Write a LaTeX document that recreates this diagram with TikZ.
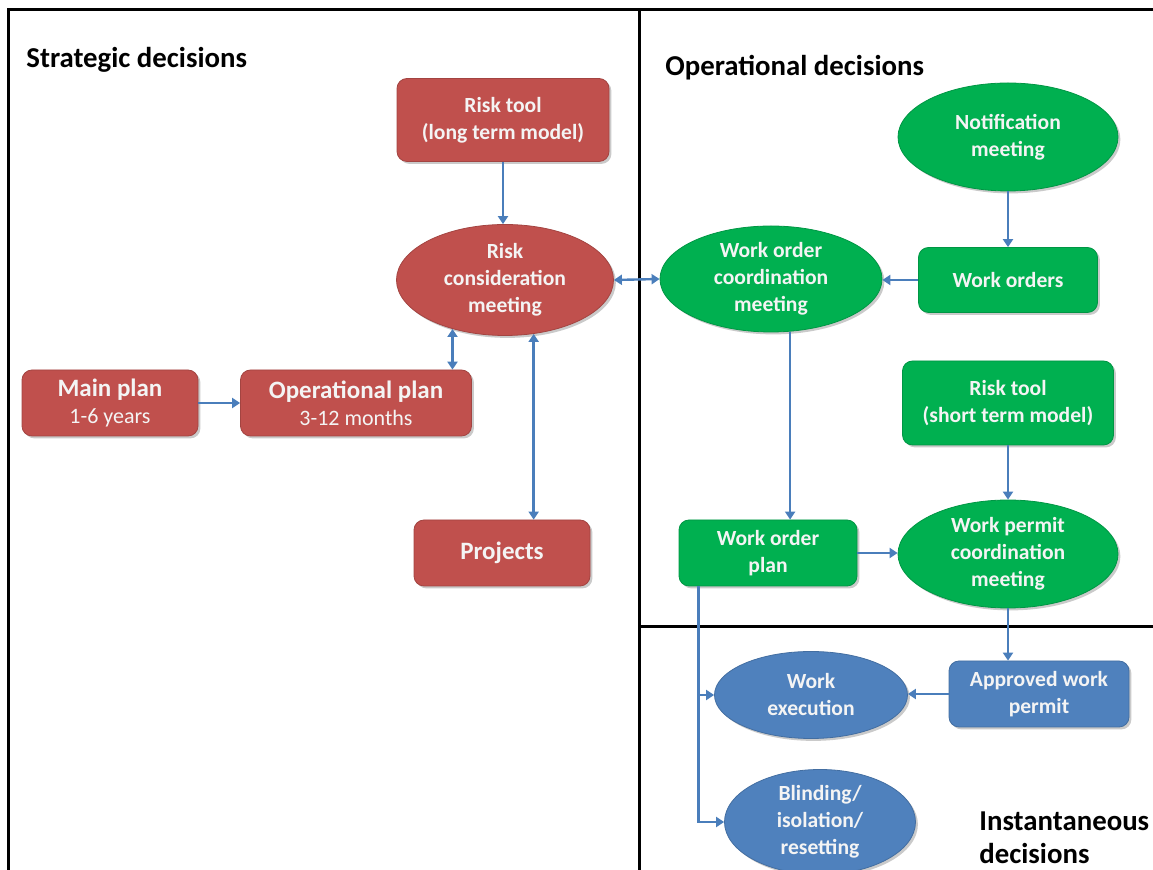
\documentclass[tikz,border=0pt]{standalone}
\usepackage{fontspec}
\setmainfont{Carlito}
\usetikzlibrary{arrows.meta,shapes.geometric,shadows}
\definecolor{cred}{HTML}{C0504D}
\definecolor{cgreen}{HTML}{00B050}
\definecolor{cblue}{HTML}{4F81BD}
\definecolor{carrow}{HTML}{4A7EBB}
\definecolor{ctext}{HTML}{F4F4F4}
\tikzset{
  shadowed/.style={drop shadow={opacity=0.35,shadow xshift=1.2pt,shadow yshift=-1.2pt,fill=black!60}},
  box/.style={rectangle,rounded corners=5pt,inner sep=0pt,align=center,text=ctext,
    font=\fontsize{10.8}{13.5}\selectfont\bfseries,shadowed},
  oval/.style={ellipse,inner sep=0pt,align=center,text=ctext,
    font=\fontsize{10.8}{13.5}\selectfont\bfseries,shadowed},
  redbox/.style={box,fill=cred,draw=cred!85!black,line width=0.4pt},
  greenbox/.style={box,fill=cgreen,draw=cgreen!85!black,line width=0.4pt},
  bluebox/.style={box,fill=cblue,draw=cblue!85!black,line width=0.4pt},
  redoval/.style={oval,fill=cred,draw=cred!85!black,line width=0.4pt},
  greenoval/.style={oval,fill=cgreen,draw=cgreen!85!black,line width=0.4pt},
  blueoval/.style={oval,fill=cblue,draw=cblue!85!black,line width=0.4pt},
  arr/.style={draw=carrow,line width=1.2pt,-{Triangle[width=5pt,length=4pt]}},
  dbl/.style={draw=carrow,line width=1.2pt,{Triangle[width=5pt,length=4pt]}-{Triangle[width=5pt,length=4pt]}},
  frame/.style={draw=black,line width=1.5pt},
  heading/.style={anchor=west,inner sep=0pt,font=\fontsize{14.4}{16.5}\selectfont\bfseries,align=left},
  big/.style={font=\fontsize{12.5}{15}\selectfont\bfseries},
}
\begin{document}
\begin{tikzpicture}[x=0.5pt,y=-0.5pt]
\useasboundingbox (0,0) rectangle (1153,870);
\begin{scope}
\clip (0,0) rectangle (1153,870);
% frame and dividers
\draw[frame] (8.5,900) -- (8.5,9.5) -- (1200,9.5);
\draw[frame] (639,9.5) -- (639,900);
\draw[frame] (639,627) -- (1200,627);

% headings
\node[heading] (hs) at (26,60) {Strategic decisions};
\node[heading] (ho) at (665,68) {Operational decisions};
\node[heading,anchor=north west] (hi) at (979,811) {Instantaneous\\decisions};

% strategic
\node[redbox,minimum width=106pt,minimum height=41.5pt] (rtl) at (503,120) {Risk tool\\(long term model)};
\node[redoval,minimum width=108.5pt,minimum height=55.5pt] (rcm) at (505,280) {Risk\\consideration\\meeting};
\node[redbox,minimum width=88pt,minimum height=33pt] (mp) at (110,403) {{\fontsize{12.5}{15}\selectfont Main plan}\\{\fontsize{11}{13}\selectfont\mdseries 1-6 years}};
\node[redbox,minimum width=115.5pt,minimum height=33pt] (op) at (356,403) {{\fontsize{12.5}{15}\selectfont Operational plan}\\{\fontsize{11}{13}\selectfont\mdseries 3-12 months}};
\node[redbox,big,minimum width=88pt,minimum height=33pt] (pr) at (502,553) {Projects};

% operational
\node[greenoval,minimum width=110pt,minimum height=54pt] (nm) at (1008,137) {Notification\\meeting};
\node[greenbox,minimum width=89.5pt,minimum height=32.5pt] (wo) at (1008,280) {Work orders};
\node[greenoval,minimum width=111pt,minimum height=53pt] (woc) at (771,279) {Work order\\coordination\\meeting};
\node[greenbox,minimum width=105.5pt,minimum height=42pt] (rts) at (1008,403) {Risk tool\\(short term model)};
\node[greenoval,minimum width=110pt,minimum height=54pt] (wpc) at (1008,554) {Work permit\\coordination\\meeting};
\node[greenbox,minimum width=89pt,minimum height=33pt] (wop) at (768,553) {Work order\\plan};

% instantaneous
\node[blueoval,minimum width=96.5pt,minimum height=43.5pt] (wex) at (811,695) {Work\\execution};
\node[bluebox,minimum width=90pt,minimum height=33pt] (apw) at (1039,694) {Approved work\\permit};
\node[blueoval,minimum width=95.5pt,minimum height=52.5pt] (bli) at (820,822) {Blinding/\\isolation/\\resetting};

% connectors
\draw[arr] (rtl.south) -- (rtl.south |- rcm.north);
\draw[dbl] (rcm.east) -- (woc.west);
\draw[dbl] (op.north -| rcm.223) -- (rcm.223);
\draw[dbl] (pr.north -| rcm.298) -- (rcm.298);
\draw[arr] (mp.east) -- (op.west);
\draw[arr] (nm.south) -- (wo.north);
\draw[arr] (wo.west) -- (woc.east |- wo.west);
\draw[arr] (woc.290) -- (woc.290 |- wop.north);
\draw[arr] (rts.south) -- (wpc.north);
\draw[arr] (wop.east) -- (wpc.west |- wop.east);
\draw[arr] (wpc.south) -- (wpc.south |- apw.north);
\draw[arr] (apw.west) -- (wex.east |- apw.west);
\draw[arr] (wop.south west) ++(20,0) coordinate (br) |- (wex.west);
\draw[arr] (br) |- (bli.west);
\end{scope}
\end{tikzpicture}
\end{document}
